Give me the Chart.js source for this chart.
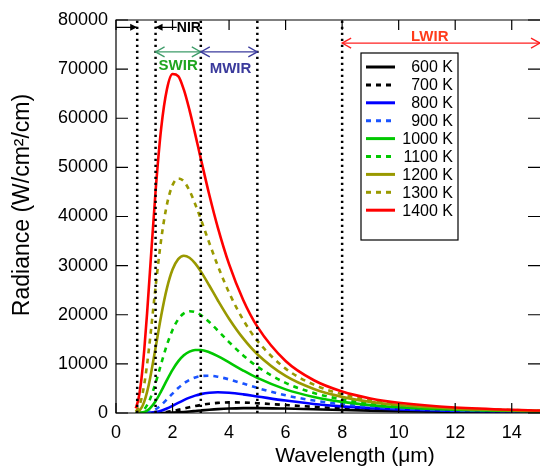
<!DOCTYPE html>
<html>
<head>
<meta charset="utf-8">
<script src="https://cdn.jsdelivr.net/npm/chart.js@4.4.1/dist/chart.umd.min.js"></script>
<style>
  html, body { margin: 0; padding: 0; background: #fff; }
  #wrap { width: 540px; height: 468px; }
</style>
</head>
<body>
<div id="wrap"><canvas id="plotRadiance"></canvas></div>
<script>
// wavelength in micrometres, radiance in W/cm^2/cm
const wavelengths = [0.7, 0.8, 0.9, 1.0, 1.1, 1.2, 1.4, 1.6, 1.8, 2.0, 2.2, 2.4, 2.6, 2.8, 3.0, 3.3, 3.6, 4.0, 4.5, 5.0, 6, 7, 8, 9, 10, 12, 15];

const r600  = [0, 0, 0, 0, 0, 0.3, 2.5, 11, 32, 73, 134, 215, 311, 415, 520, 668, 793, 913, 988, 998, 901, 749, 600, 474, 374, 236, 125];
const r700  = [0, 0, 0, 0.4, 1.8, 5.5, 29, 94, 218, 402, 636, 897, 1162, 1411, 1631, 1889, 2058, 2156, 2128, 1996, 1618, 1248, 947, 719, 550, 331, 168];
const r800  = [0, 0.2, 1.3, 5.8, 18, 47, 183, 468, 907, 1454, 2045, 2617, 3123, 3536, 3846, 4125, 4215, 4120, 3796, 3374, 2528, 1847, 1348, 994, 742, 433, 213];
const r900  = [0.3, 2.4, 12, 43, 113, 246, 764, 1634, 2751, 3950, 5075, 6022, 6742, 7230, 7504, 7587, 7380, 6841, 5981, 5103, 3602, 2526, 1791, 1291, 948, 539, 259];
const r1000 = [2.6, 18, 72, 211, 485, 933, 2394, 4437, 6689, 8790, 10502, 11736, 12493, 12829, 12829, 12376, 11584, 10297, 8641, 7139, 4812, 3269, 2265, 1606, 1164, 649, 306];
const r1100 = [17, 91, 309, 781, 1592, 2775, 6092, 10053, 13842, 16914, 19056, 20275, 20713, 20538, 19932, 18513, 16795, 14437, 11725, 9443, 6133, 4064, 2765, 1933, 1386, 762, 354];
const r1200 = [81, 354, 1037, 2322, 4288, 6884, 13282, 19871, 25375, 29203, 31326, 32013, 31612, 30453, 28826, 25953, 22957, 19196, 15179, 11972, 7547, 4899, 3285, 2272, 1615, 876, 403];
const r1300 = [303, 1120, 2890, 5838, 9914, 14845, 25662, 35381, 42392, 46385, 47753, 47170, 45260, 42564, 39471, 34627, 29985, 24507, 18953, 14695, 9036, 5767, 3821, 2618, 1848, 993, 451];
const r1400 = [937, 3010, 6961, 12876, 20346, 28703, 45138, 58031, 65849, 68997, 68594, 65824, 61660, 56815, 51767, 44433, 37800, 30308, 23008, 17583, 10586, 6663, 4369, 2971, 2085, 1110, 501];

const tempLabels = ['600 K', '700 K', '800 K', '900 K', '1000 K', '1100 K', '1200 K', '1300 K', '1400 K'];
const bandEdges = [0.75, 1.4, 3, 5, 8];   // vertical dotted lines (um)
const xTicks = [0, 2, 4, 6, 8, 10, 12, 14];
const yTicks = [0, 10000, 20000, 30000, 40000, 50000, 60000, 70000, 80000];

const FONT = "'Liberation Sans', Arial, sans-serif";
const series = [r600, r700, r800, r900, r1000, r1100, r1200, r1300, r1400];
const colors = ['#000000', '#000000', '#0000ff', '#1a53ff', '#00c800', '#00c800', '#999900', '#999900', '#ff0000'];
const dashed = [false, true, false, true, false, true, false, true, false];

function toPoints(vals) {
  return wavelengths.map((w, i) => ({ x: w, y: vals[i] }));
}

const datasets = [];
for (var i = 0; i < series.length; i++) {
  datasets.push({
    label: tempLabels[i],
    data: toPoints(series[i]),
    borderColor: colors[i],
    backgroundColor: colors[i],
    borderWidth: 2.6,
    borderDash: dashed[i] ? [5, 5] : [],
    pointRadius: 0,
    cubicInterpolationMode: 'monotone',
    order: 10 - i,
  });
}
bandEdges.forEach(e => {
  datasets.push({
    label: '',
    data: [{ x: e, y: 0 }, { x: e, y: 80000 }],
    borderColor: '#000',
    borderWidth: 2.5,
    borderDash: [2.2, 3.8],
    pointRadius: 0,
    order: 0,
  });
});

function arrowHead(ctx, x, y, dir, filled) {
  // dir = +1 points right, -1 points left
  ctx.beginPath();
  if (filled) {
    ctx.moveTo(x, y);
    ctx.lineTo(x - dir * 7, y - 3.5);
    ctx.lineTo(x - dir * 7, y + 3.5);
    ctx.closePath();
    ctx.fill();
  } else {
    ctx.moveTo(x - dir * 9, y - 5);
    ctx.lineTo(x, y);
    ctx.lineTo(x - dir * 9, y + 5);
    ctx.stroke();
  }
}

function bandArrow(ctx, x, y, v1, v2, yv, color) {
  const x1 = x.getPixelForValue(v1), x2 = x.getPixelForValue(v2), py = y.getPixelForValue(yv);
  ctx.strokeStyle = color;
  ctx.lineWidth = 1.3;
  ctx.beginPath();
  ctx.moveTo(x1, py); ctx.lineTo(x2, py);
  ctx.stroke();
  arrowHead(ctx, x1, py, -1, false);
  arrowHead(ctx, x2, py, 1, false);
}

const overlay = {
  id: 'overlay',
  afterDatasetsDraw(chart) {
    const { ctx, chartArea: a, scales: { x, y } } = chart;
    ctx.save();

    // frame + inward ticks
    ctx.strokeStyle = '#000';
    ctx.lineWidth = 1.2;
    ctx.beginPath();
    ctx.moveTo(a.right, a.top); ctx.lineTo(a.left, a.top);
    ctx.lineTo(a.left, a.bottom); ctx.lineTo(a.right, a.bottom);
    ctx.stroke();
    ctx.beginPath();
    xTicks.forEach(v => {
      const px = x.getPixelForValue(v);
      ctx.moveTo(px, a.bottom); ctx.lineTo(px, a.bottom - 10);
      ctx.moveTo(px, a.top); ctx.lineTo(px, a.top + 10);
    });
    yTicks.forEach(v => {
      const py = y.getPixelForValue(v);
      ctx.moveTo(a.left, py); ctx.lineTo(a.left + 12, py);
      ctx.moveTo(a.right, py); ctx.lineTo(a.right - 12, py);
    });
    ctx.stroke();

    // NIR markers
    const nirY = y.getPixelForValue(78500);
    ctx.strokeStyle = '#000'; ctx.fillStyle = '#000'; ctx.lineWidth = 1.3;
    ctx.beginPath();
    ctx.moveTo(a.left, nirY); ctx.lineTo(x.getPixelForValue(0.75), nirY);
    ctx.moveTo(x.getPixelForValue(1.4), nirY); ctx.lineTo(x.getPixelForValue(2.15), nirY);
    ctx.stroke();
    arrowHead(ctx, x.getPixelForValue(0.75), nirY, 1, true);
    arrowHead(ctx, x.getPixelForValue(1.4), nirY, -1, true);
    ctx.font = 'bold 14px ' + FONT;
    ctx.textAlign = 'left'; ctx.textBaseline = 'middle';
    ctx.fillText('NIR', x.getPixelForValue(2.15), nirY + 1);

    // SWIR / MWIR / LWIR
    bandArrow(ctx, x, y, 1.4, 3, 73500, '#3d9b68');
    bandArrow(ctx, x, y, 3, 5, 73500, '#3a3a9c');
    bandArrow(ctx, x, y, 8, 15, 75300, '#ff2020');
    ctx.textAlign = 'center';
    ctx.font = 'bold 15px ' + FONT;
    ctx.fillStyle = '#1fa51f';
    ctx.fillText('SWIR', x.getPixelForValue(2.2), y.getPixelForValue(70700));
    ctx.fillStyle = '#3a3a9c';
    ctx.fillText('MWIR', x.getPixelForValue(4.05), y.getPixelForValue(70100));
    ctx.fillStyle = '#ff3b1a';
    ctx.fillText('LWIR', x.getPixelForValue(11.1), y.getPixelForValue(76500));

    // legend
    const lx = a.right - 179, ly = a.top + 33, lw = 97, lh = 187;
    ctx.fillStyle = '#fff';
    ctx.fillRect(lx, ly, lw, lh);
    ctx.strokeStyle = '#000'; ctx.lineWidth = 1.2;
    ctx.strokeRect(lx, ly, lw, lh);
    ctx.font = '16px ' + FONT;
    ctx.textAlign = 'right';
    chart.data.datasets.filter(d => d.label).forEach((d, k) => {
      const ty = ly + 14 + k * 17.9;
      ctx.strokeStyle = d.borderColor;
      ctx.lineWidth = 3;
      ctx.setLineDash(d.borderDash.length ? [5, 5] : []);
      ctx.beginPath();
      ctx.moveTo(lx + 5, ty); ctx.lineTo(lx + 34, ty);
      ctx.stroke();
      ctx.setLineDash([]);
      ctx.fillStyle = '#000';
      ctx.fillText(d.label, lx + 92, ty + 1);
    });

    // axis titles
    ctx.fillStyle = '#000';
    ctx.font = '21px ' + FONT;
    ctx.textAlign = 'center'; ctx.textBaseline = 'middle';
    ctx.fillText('Wavelength (\u03bcm)', 355, 456);
    ctx.save();
    ctx.translate(23, 205);
    ctx.rotate(-Math.PI / 2);
    ctx.font = '23px ' + FONT;
    ctx.fillText('Radiance (W/cm\u00b2/cm)', 0, 0);
    ctx.restore();

    ctx.restore();
  }
};

const config = {
  type: 'line',
  data: { datasets: datasets },
  options: {
    responsive: true,
    maintainAspectRatio: false,
    animation: false,
    layout: { padding: { top: 20, right: 0, bottom: 0, left: 0 } },
    plugins: {
      legend: { display: false },
      title: { display: false },
      tooltip: { enabled: false }
    },
    scales: {
      x: {
        type: 'linear',
        min: 0,
        max: 15,
        grid: { display: false, drawTicks: false },
        border: { display: false },
        afterFit: s => { s.height = 55; },
        ticks: {
          stepSize: 2,
          includeBounds: false,
          padding: 9,
          color: '#000',
          maxRotation: 0,
          font: { family: FONT, size: 18 }
        }
      },
      y: {
        min: 0,
        max: 80000,
        grid: { display: false, drawTicks: false },
        border: { display: false },
        afterFit: s => { s.width = 116; },
        ticks: {
          stepSize: 10000,
          padding: 8,
          color: '#000',
          format: { useGrouping: false },
          font: { family: FONT, size: 18 }
        }
      }
    }
  },
  plugins: [overlay]
};

const chart1 = new Chart(document.getElementById('plotRadiance'), config);
</script>
</body>
</html>
